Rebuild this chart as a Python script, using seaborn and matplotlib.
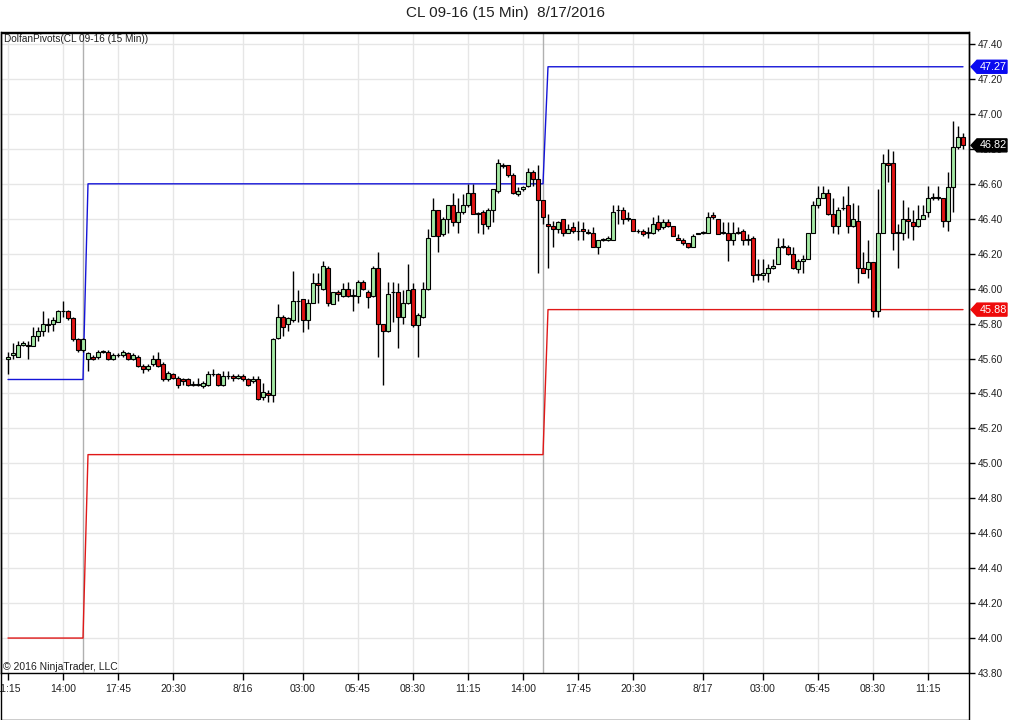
import numpy as np
import pandas as pd
import matplotlib
matplotlib.use('Agg')
import matplotlib.pyplot as plt
import matplotlib.transforms as mtransforms
from matplotlib.patches import Polygon, Rectangle
import seaborn as sns

# OHLC 15 menit CL 09-16, dibaca dari chart (bar 0 = 8/15 11:15)
opens = [45.60, 45.62, 45.61, 45.68, 45.68, 45.67, 45.73, 45.76, 45.79, 45.80,
         45.81, 45.87, 45.87, 45.83, 45.71, 45.65, 45.60, 45.61, 45.61, 45.64,
         45.64, 45.60, 45.62, 45.62, 45.63, 45.60, 45.61, 45.56, 45.54, 45.57,
         45.60, 45.57, 45.48, 45.51, 45.49, 45.48, 45.48, 45.45, 45.45, 45.44,
         45.45, 45.51, 45.51, 45.45, 45.50, 45.50, 45.49, 45.50, 45.48, 45.47,
         45.48, 45.38, 45.40, 45.39, 45.72, 45.84, 45.80, 45.82, 45.93, 45.94,
         45.82, 45.92, 46.03, 46.00, 46.12, 45.91, 45.98, 45.96, 46.00, 45.96,
         45.96, 46.04, 45.98, 45.96, 46.12, 45.80, 45.76, 45.98, 45.98, 45.84,
         45.92, 46.00, 45.79, 45.84, 46.00, 46.30, 46.45, 46.31, 46.40, 46.48,
         46.38, 46.44, 46.48, 46.55, 46.43, 46.44, 46.36, 46.45, 46.56, 46.71,
         46.71, 46.65, 46.54, 46.57, 46.59, 46.67, 46.63, 46.51, 46.37, 46.36,
         46.34, 46.40, 46.32, 46.35, 46.33, 46.34, 46.32, 46.32, 46.24, 46.28,
         46.28, 46.28, 46.45, 46.45, 46.40, 46.40, 46.33, 46.33, 46.32, 46.32,
         46.38, 46.35, 46.38, 46.36, 46.29, 46.28, 46.26, 46.24, 46.31, 46.32,
         46.32, 46.42, 46.40, 46.32, 46.32, 46.28, 46.32, 46.33, 46.28, 46.29,
         46.08, 46.08, 46.09, 46.12, 46.14, 46.24, 46.24, 46.20, 46.11, 46.16,
         46.17, 46.32, 46.48, 46.52, 46.55, 46.43, 46.36, 46.46, 46.48, 46.36,
         46.39, 46.12, 46.11, 46.15, 45.87, 46.32, 46.72, 46.72, 46.32, 46.32,
         46.40, 46.38, 46.36, 46.40, 46.44, 46.52, 46.52, 46.52, 46.39, 46.58,
         46.81, 46.87]
highs = [45.64, 45.69, 45.70, 45.70, 45.70, 45.78, 45.78, 45.87, 45.83, 45.84,
         45.88, 45.93, 45.88, 45.84, 45.72, 45.72, 45.64, 45.62, 45.65, 45.65,
         45.65, 45.63, 45.63, 45.65, 45.64, 45.63, 45.62, 45.57, 45.57, 45.62,
         45.64, 45.58, 45.53, 45.52, 45.50, 45.49, 45.49, 45.47, 45.49, 45.47,
         45.53, 45.54, 45.52, 45.53, 45.53, 45.51, 45.51, 45.51, 45.49, 45.50,
         45.50, 45.46, 45.42, 45.72, 45.91, 45.85, 45.84, 46.10, 45.99, 45.94,
         45.94, 46.09, 46.09, 46.16, 46.13, 45.98, 45.99, 46.03, 46.04, 46.00,
         46.05, 46.05, 45.99, 46.13, 46.21, 45.80, 46.04, 46.04, 46.03, 45.99,
         46.14, 46.03, 45.86, 46.04, 46.34, 46.52, 46.45, 46.41, 46.48, 46.55,
         46.52, 46.54, 46.60, 46.60, 46.44, 46.45, 46.46, 46.57, 46.74, 46.72,
         46.71, 46.66, 46.58, 46.59, 46.69, 46.68, 46.71, 46.51, 46.43, 46.39,
         46.39, 46.40, 46.37, 46.38, 46.39, 46.38, 46.34, 46.35, 46.28, 46.29,
         46.30, 46.48, 46.48, 46.47, 46.44, 46.40, 46.34, 46.34, 46.35, 46.41,
         46.42, 46.40, 46.40, 46.36, 46.31, 46.29, 46.26, 46.31, 46.32, 46.33,
         46.44, 46.44, 46.40, 46.38, 46.38, 46.38, 46.35, 46.34, 46.31, 46.30,
         46.17, 46.17, 46.14, 46.17, 46.29, 46.29, 46.25, 46.24, 46.17, 46.19,
         46.32, 46.50, 46.59, 46.59, 46.57, 46.52, 46.47, 46.53, 46.59, 46.49,
         46.48, 46.21, 46.28, 46.15, 46.57, 46.77, 46.80, 46.79, 46.37, 46.51,
         46.47, 46.45, 46.48, 46.48, 46.59, 46.55, 46.59, 46.52, 46.67, 46.96,
         46.93, 46.89]
lows = [45.51, 45.60, 45.61, 45.67, 45.60, 45.67, 45.70, 45.73, 45.75, 45.76,
        45.81, 45.84, 45.82, 45.70, 45.64, 45.64, 45.53, 45.59, 45.60, 45.63,
        45.59, 45.59, 45.61, 45.61, 45.59, 45.59, 45.55, 45.52, 45.53, 45.56,
        45.55, 45.47, 45.47, 45.48, 45.43, 45.45, 45.44, 45.44, 45.44, 45.43,
        45.44, 45.50, 45.44, 45.44, 45.48, 45.47, 45.48, 45.47, 45.44, 45.46,
        45.36, 45.36, 45.35, 45.35, 45.71, 45.73, 45.76, 45.81, 45.81, 45.75,
        45.77, 45.92, 45.92, 45.99, 45.90, 45.91, 45.93, 45.95, 45.95, 45.87,
        45.92, 45.99, 45.89, 45.95, 45.61, 45.45, 45.75, 45.81, 45.66, 45.80,
        45.91, 45.78, 45.61, 45.83, 45.99, 46.30, 46.21, 46.30, 46.32, 46.36,
        46.32, 46.43, 46.47, 46.43, 46.32, 46.31, 46.34, 46.38, 46.55, 46.69,
        46.64, 46.54, 46.53, 46.56, 46.58, 46.59, 46.09, 46.37, 46.12, 46.24,
        46.32, 46.30, 46.32, 46.32, 46.28, 46.28, 46.31, 46.24, 46.20, 46.27,
        46.27, 46.28, 46.37, 46.37, 46.39, 46.33, 46.32, 46.30, 46.29, 46.31,
        46.33, 46.34, 46.35, 46.30, 46.28, 46.25, 46.23, 46.24, 46.31, 46.31,
        46.32, 46.40, 46.31, 46.31, 46.16, 46.25, 46.31, 46.25, 46.25, 46.04,
        46.05, 46.05, 46.04, 46.11, 46.14, 46.23, 46.19, 46.11, 46.09, 46.09,
        46.17, 46.32, 46.46, 46.52, 46.42, 46.32, 46.31, 46.45, 46.32, 46.35,
        46.03, 46.09, 46.06, 45.84, 45.84, 46.32, 46.61, 46.22, 46.12, 46.28,
        46.29, 46.28, 46.35, 46.40, 46.41, 46.51, 46.51, 46.35, 46.33, 46.44,
        46.80, 46.80]
closes = [45.61, 45.63, 45.68, 45.69, 45.67, 45.73, 45.76, 45.80, 45.80, 45.82,
          45.87, 45.87, 45.83, 45.71, 45.65, 45.71, 45.63, 45.60, 45.64, 45.64,
          45.60, 45.62, 45.62, 45.64, 45.60, 45.62, 45.56, 45.54, 45.56, 45.60,
          45.56, 45.48, 45.52, 45.49, 45.45, 45.47, 45.45, 45.45, 45.45, 45.46,
          45.51, 45.51, 45.45, 45.50, 45.50, 45.49, 45.50, 45.48, 45.45, 45.48,
          45.37, 45.41, 45.39, 45.71, 45.84, 45.78, 45.83, 45.93, 45.93, 45.82,
          45.92, 46.03, 46.02, 46.13, 45.92, 45.98, 45.97, 46.00, 45.96, 45.96,
          46.04, 46.00, 45.95, 46.12, 45.80, 45.76, 45.97, 45.98, 45.84, 45.92,
          45.99, 45.79, 45.85, 46.00, 46.29, 46.45, 46.30, 46.40, 46.48, 46.38,
          46.44, 46.48, 46.55, 46.43, 46.43, 46.37, 46.45, 46.57, 46.72, 46.70,
          46.65, 46.55, 46.56, 46.58, 46.67, 46.63, 46.51, 46.41, 46.36, 46.34,
          46.38, 46.32, 46.34, 46.33, 46.33, 46.33, 46.32, 46.24, 46.28, 46.28,
          46.29, 46.44, 46.45, 46.40, 46.40, 46.33, 46.33, 46.31, 46.32, 46.37,
          46.34, 46.38, 46.36, 46.30, 46.28, 46.26, 46.24, 46.30, 46.32, 46.32,
          46.41, 46.41, 46.31, 46.32, 46.28, 46.32, 46.32, 46.28, 46.28, 46.08,
          46.08, 46.09, 46.12, 46.13, 46.24, 46.24, 46.20, 46.12, 46.16, 46.17,
          46.32, 46.48, 46.52, 46.55, 46.43, 46.36, 46.45, 46.46, 46.36, 46.40,
          46.12, 46.09, 46.15, 45.87, 46.32, 46.72, 46.71, 46.32, 46.32, 46.40,
          46.39, 46.36, 46.40, 46.42, 46.52, 46.52, 46.52, 46.39, 46.58, 46.81,
          46.87, 46.82]

# DolfanPivots per sesi
session_start = [0, 16, 108]
pivot_high = [45.48, 46.60, 47.27]
pivot_low = [44.00, 45.05, 45.88]
session_break = [15, 107]

tick_pos = [0, 11, 22, 33, 47, 59, 70, 81, 92, 103, 114, 125, 139, 151, 162, 173, 184]
tick_labels = ['11:15', '14:00', '17:45', '20:30', '8/16', '03:00', '05:45', '08:30',
               '11:15', '14:00', '17:45', '20:30', '8/17', '03:00', '05:45', '08:30', '11:15']

sns.set_theme(style="whitegrid")
plt.rcParams['font.family'] = ['Liberation Sans', 'DejaVu Sans']

df = pd.DataFrame({'open': opens, 'high': highs, 'low': lows, 'close': closes})
n = len(df)
df['bar'] = np.arange(n)
lens = np.diff(session_start + [n])
df['upper'] = np.repeat(pivot_high, lens)
df['lower'] = np.repeat(pivot_low, lens)

W, H = 1016, 720
fig = plt.figure(figsize=(W / 100, H / 100), dpi=100)
fig.patch.set_facecolor('white')
ax = fig.add_axes([1 / W, 47 / H, 968 / W, 641 / H])
ax.set_facecolor('white')

ax.set_xlim(-1.4, 192.2)
ax.set_ylim(43.80, 47.469)

ax.grid(True, color='#e6e6e6', lw=1)
ax.set_axisbelow(True)
for s in session_break:
    ax.axvline(s, color='#b0b0b0', lw=1, zorder=1)

# garis pivot
sns.lineplot(data=df, x='bar', y='upper', color='#1414d8', lw=1, ax=ax, zorder=2)
sns.lineplot(data=df, x='bar', y='lower', color='#e01818', lw=1, ax=ax, zorder=2)

# candlestick
up = df['close'] >= df['open']
fill = np.where(up, '#a3e8a3', '#e01414')
ax.vlines(df['bar'], df['low'], df['high'], color='black', lw=1, zorder=3)
body = (df['close'] - df['open']).abs().clip(lower=0.002)
bottom = df[['open', 'close']].min(axis=1)
ax.bar(df['bar'], body, bottom=bottom, width=0.72, color=fill,
       edgecolor='black', lw=0.8, zorder=4)

ax.set_xlabel('')
ax.set_ylabel('')
ax.set_xticks(tick_pos, tick_labels)
yt = np.round(np.arange(43.80, 47.41, 0.20), 2)
ax.set_yticks(yt, [f'{v:.2f}' for v in yt])
ax.yaxis.tick_right()
ax.tick_params(axis='x', bottom=True, direction='out', length=5, width=1,
               color='black', labelsize=7.5, pad=3, labelcolor='#202020')
ax.tick_params(axis='y', right=True, left=False, direction='out', length=4, width=1,
               color='black', labelsize=7.2, pad=2, labelcolor='#202020')
for sp in ax.spines.values():
    sp.set_color('black')
    sp.set_linewidth(1)
    sp.set_visible(True)

# kotak luar area label waktu
fig.add_artist(Rectangle((0.5 / W, 0.5 / H), 968.5 / W, 687 / H,
                         transform=fig.transFigure, fill=False, ec='black', lw=1))

# tag harga di kanan
trans = mtransforms.blended_transform_factory(ax.transAxes, ax.transData)
def price_tag(y, txt, color):
    h = 6.5 / 174.7
    tip, bl, r = 970 / 968, 976 / 968, 1006 / 968
    poly = Polygon([(tip, y), (bl, y + h), (r, y + h), (r, y - h), (bl, y - h)],
                   closed=True, transform=trans, fc=color, ec=color, clip_on=False, zorder=10)
    ax.add_patch(poly)
    ax.text((bl + r) / 2 + 0.001, y, txt, transform=trans, color='white', fontsize=7.8,
            ha='center', va='center', clip_on=False, zorder=11)

price_tag(pivot_high[-1], f'{pivot_high[-1]:.2f}', '#0a0af0')
price_tag(closes[-1], f'{closes[-1]:.2f}', 'black')
price_tag(pivot_low[-1], f'{pivot_low[-1]:.2f}', '#ee0a0a')

fig.text(506 / W, 1 - 13 / H, 'CL 09-16 (15 Min)  8/17/2016', ha='center', va='center',
         fontsize=11, color='#202020')
fig.text(4 / W, 1 - 39 / H, 'DolfanPivots(CL 09-16 (15 Min))', ha='left', va='center',
         fontsize=7.2, color='#202020')
fig.text(3 / W, 1 - 667 / H, '© 2016 NinjaTrader, LLC', ha='left', va='center',
         fontsize=7.5, color='#202020')

fig.savefig('out.png', dpi=100)
plt.close(fig)
